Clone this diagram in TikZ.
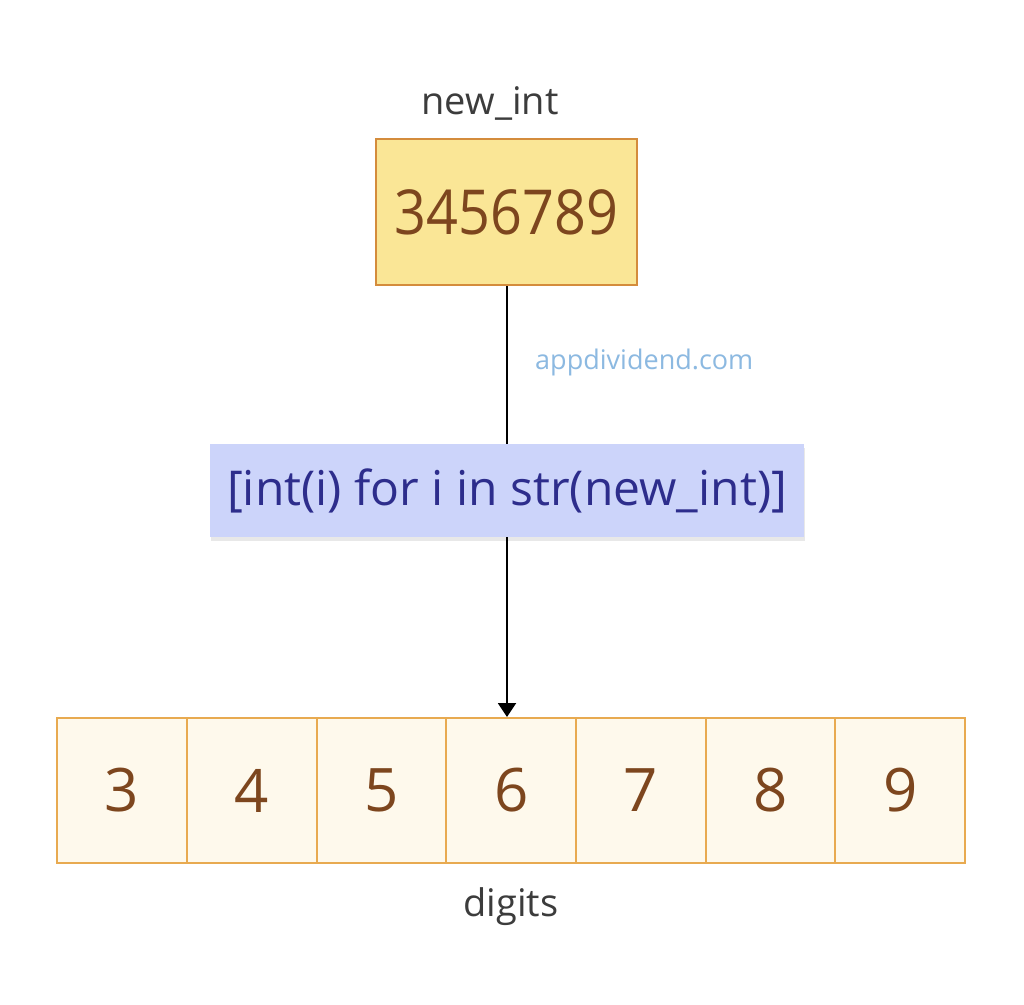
\documentclass[tikz,border=0pt]{standalone}
\usepackage{fontspec}
\setmainfont{Open Sans}
\usetikzlibrary{shadows,arrows.meta}
\definecolor{yfill}{RGB}{250,230,150}
\definecolor{ydraw}{RGB}{212,140,60}
\definecolor{brownt}{RGB}{125,70,30}
\definecolor{cfill}{RGB}{254,249,236}
\definecolor{cdraw}{RGB}{232,170,80}
\definecolor{bfill}{RGB}{204,212,250}
\definecolor{btext}{RGB}{45,45,140}
\definecolor{wmark}{RGB}{140,185,225}
\definecolor{lbl}{RGB}{60,60,60}
\tikzset{
  lab/.style={text=lbl, font=\fontsize{38}{44}\selectfont, inner sep=0pt},
  topbox/.style={draw=ydraw, fill=yfill, line width=2pt, minimum width=261pt, minimum height=146pt, inner sep=0pt, text=brownt, font=\fontsize{62}{72}\selectfont},
  cell/.style={draw=cdraw, fill=cfill, line width=2pt, minimum width=129.7pt, minimum height=145pt, inner sep=0pt, text=brownt, font=\fontsize{60}{70}\selectfont},
  opbox/.style={fill=bfill, minimum width=594pt, minimum height=93pt, inner sep=0pt, text=btext, font=\fontsize{48}{56}\selectfont, drop shadow={opacity=0.18, shadow xshift=1pt, shadow yshift=-4pt}},
  conn/.style={line width=2pt, draw=black},
}
\begin{document}
\begin{tikzpicture}[x=1pt,y=-1pt]
\useasboundingbox (0,0) rectangle (1024,1004);
\fill[white] (0,0) rectangle (1024,1004);
\node[lab] (lnew) at (490,103) {new\_int};
\node[topbox] (top) at (506.5,212) {\scalebox{0.9}[1]{3456789}};
\node[text=wmark, font=\fontsize{27}{32}\selectfont, inner sep=0pt, anchor=west] (wm) at (535,362) {appdividend.com};
\foreach \d [count=\i from 0] in {3,4,5,6,7,8,9} {
  \node[cell] (d\d) at ({122.1+\i*129.7},790.5) {\d};
}
\node[lab] (ldig) at (511,907) {digits};
\draw[conn] (top.south -| 507,0) -- (507,450);
\node[opbox] (op) at (507,490.5) {[int(i) for i in str(new\_int)]};
\draw[conn, -{Triangle[length=14pt,width=18pt]}] (op.south -| 507,0) -- (d6.north -| 507,0);
\end{tikzpicture}
\end{document}
